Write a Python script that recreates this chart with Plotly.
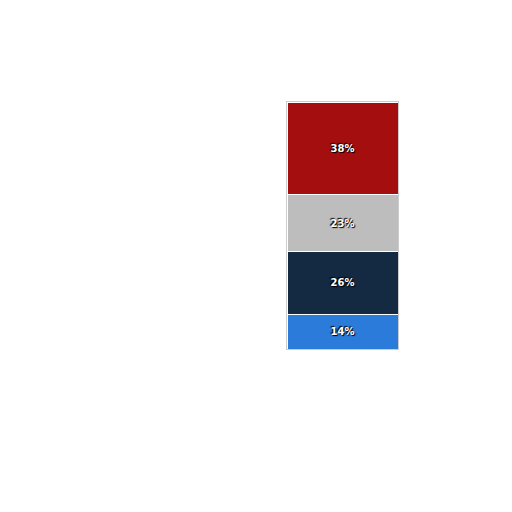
import plotly.graph_objects as go

categories = ["14%", "26%", "23%", "38%"]
values = [14, 26, 23, 38]
colors = ["#2B7BDB", "#132A42", "#BDBDBD", "#A50E0E"]

fig = go.Figure()
for cat, v, c in zip(categories, values, colors):
    fig.add_trace(go.Bar(
        x=[0], y=[v], name=cat, width=1,
        marker=dict(color=c, line=dict(color="#FFFFFF", width=1)),
        text=[f"{v}%"], textposition="inside", insidetextanchor="middle",
        textfont=dict(color="white", size=10, family="DejaVu Sans", weight="bold",
                      shadow="1px 1px 1px #000, -1px -1px 1px #000"),
        hoverinfo="skip",
    ))

fig.update_layout(
    barmode="stack", width=512, height=512,
    margin=dict(l=279, r=122, t=94, b=171, pad=0),
    paper_bgcolor="white", plot_bgcolor="white",
    showlegend=False,
    xaxis=dict(range=[-0.5, 0.5], visible=True, showticklabels=False, showgrid=False,
               zeroline=False, showline=True, mirror=True, linecolor="#CCCCCC", linewidth=1),
    yaxis=dict(range=[0, sum(values)], showticklabels=False, showgrid=False,
               zeroline=False, showline=True, mirror=True, linecolor="#CCCCCC", linewidth=1),
)
fig.write_html("out.html")
